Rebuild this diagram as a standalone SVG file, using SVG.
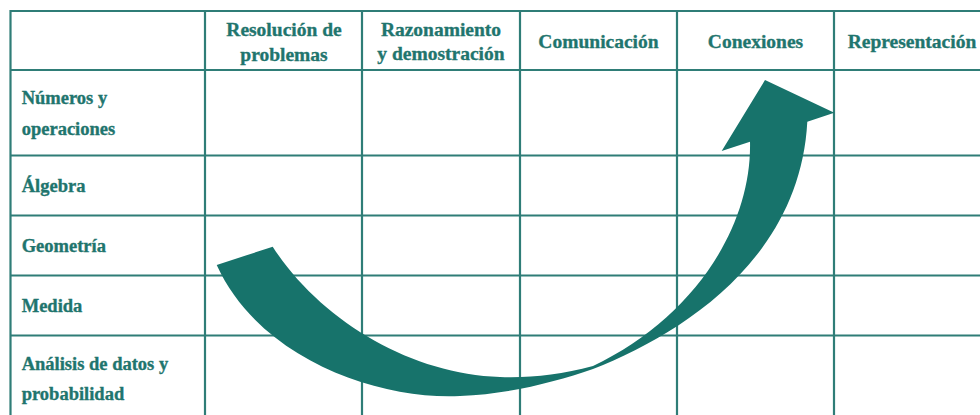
<svg xmlns="http://www.w3.org/2000/svg" width="980" height="415" viewBox="0 0 980 415">
  <style>
    .grid line { stroke: #2f7d77; stroke-width: 2.2; }
    .h { font-family: "Liberation Serif", "Times New Roman", serif; font-weight: bold; font-size: 19.5px; fill: #1f756e; stroke: #1f756e; stroke-width: 0.35; text-anchor: middle; }
    .r { font-family: "Liberation Serif", "Times New Roman", serif; font-weight: bold; font-size: 18.5px; fill: #1f756e; stroke: #1f756e; stroke-width: 0.35; }
    .arrow { fill: #17736b; }
  </style>
  <rect width="980" height="415" fill="#ffffff"/>
  <g id="grid" class="grid">
    <line x1="10" y1="11" x2="980" y2="11"/>
    <line x1="10" y1="70" x2="980" y2="70"/>
    <line x1="10" y1="155.5" x2="980" y2="155.5"/>
    <line x1="10" y1="215.5" x2="980" y2="215.5"/>
    <line x1="10" y1="275.5" x2="980" y2="275.5"/>
    <line x1="10" y1="335.5" x2="980" y2="335.5"/>
    <line x1="10.5" y1="10" x2="10.5" y2="415"/>
    <line x1="205" y1="10" x2="205" y2="415"/>
    <line x1="362" y1="10" x2="362" y2="415"/>
    <line x1="520" y1="10" x2="520" y2="415"/>
    <line x1="677" y1="10" x2="677" y2="415"/>
    <line x1="834" y1="10" x2="834" y2="415"/>
  </g>
  <g id="col-resolucion"><text class="h" x="284" y="35.7">Resolución de</text><text class="h" x="284" y="61">problemas</text></g>
  <g id="col-razonamiento"><text class="h" x="441" y="35.7">Razonamiento</text><text class="h" x="441" y="60">y demostración</text></g>
  <g id="col-comunicacion"><text class="h" x="598.5" y="48.3">Comunicación</text></g>
  <g id="col-conexiones"><text class="h" x="755.5" y="48.3">Conexiones</text></g>
  <g id="col-representacion"><text class="h" x="912" y="48.3">Representación</text></g>
  <g id="row-numeros"><text class="r" x="21.7" y="104">Números y</text><text class="r" x="21.7" y="135">operaciones</text></g>
  <g id="row-algebra"><text class="r" x="21.7" y="192.3">Álgebra</text></g>
  <g id="row-geometria"><text class="r" x="21.7" y="251.7">Geometría</text></g>
  <g id="row-medida"><text class="r" x="21.7" y="311.7">Medida</text></g>
  <g id="row-analisis"><text class="r" x="21.7" y="370">Análisis de datos y</text><text class="r" x="21.7" y="400">probabilidad</text></g>
  <g id="connectors">
    <path class="arrow" d="M216.7,265 C260,360 380,400 460,396 C510,394 555,382 593,369 C680,335 800,260 807.3,121.7 L834.3,112.7 L765,80 L721.7,151 L750,141.7 C752,230 690,320 593,366 C560,375 530,378 500,377 C410,374 320,320 272.7,246.7 Z"/>
  </g>
</svg>
